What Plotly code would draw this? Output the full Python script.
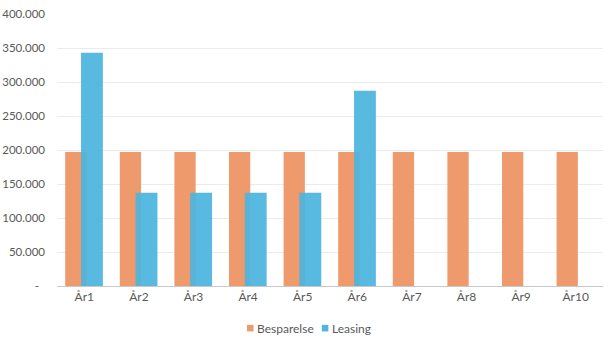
import plotly.graph_objects as go

years = ["År1", "År2", "År3", "År4", "År5", "År6", "År7", "År8", "År9", "År10"]
besparelse = [197000, 197000, 197000, 197000, 197000, 197000, 197000, 197000, 197000, 197000]
leasing = [343000, 137000, 137000, 137000, 137000, 287000, 0, 0, 0, 0]

y_tick_vals = [0, 50000, 100000, 150000, 200000, 250000, 300000, 350000, 400000]
y_tick_text = ["-\u00a0\u00a0", "50.000", "100.000", "150.000", "200.000",
               "250.000", "300.000", "350.000", "400.000"]

series_names = ["Besparelse", "Leasing"]
series_colors = ["#EE9A6C", "#4DB5DF"]

text_color = "#595959"
font_family = "Lato, 'Liberation Sans', sans-serif"

fig = go.Figure()
fig.add_trace(go.Bar(
    x=years, y=besparelse, name=series_names[0],
    marker=dict(color=series_colors[0], line=dict(width=0)),
    width=0.39, offset=-0.35, showlegend=False,
))
fig.add_trace(go.Bar(
    x=years, y=leasing, name=series_names[1],
    marker=dict(color=series_colors[1], line=dict(width=0)),
    opacity=0.93, width=0.40, offset=-0.06, showlegend=False,
))

# compact legend below the plot: colour square + label per series
legend_x = [0.348, 0.485]
shapes = []
annotations = []
for name, color, lx in zip(series_names, series_colors, legend_x):
    shapes.append(dict(
        type="rect", xref="paper", yref="paper",
        x0=lx, x1=lx + 0.012, y0=-0.167, y1=-0.143,
        fillcolor=color, line=dict(width=0),
    ))
    annotations.append(dict(
        xref="paper", yref="paper", x=lx + 0.015, y=-0.155,
        xanchor="left", yanchor="middle", text=name, showarrow=False,
        font=dict(family=font_family, size=12, color=text_color),
    ))

fig.update_layout(
    width=610, height=339,
    barmode="overlay",
    margin=dict(l=57, r=7, t=14, b=53, autoexpand=False),
    paper_bgcolor="white",
    plot_bgcolor="white",
    font=dict(family=font_family, size=12, color=text_color),
    showlegend=False,
    shapes=shapes,
    annotations=annotations,
    xaxis=dict(
        showgrid=False, showline=True, linecolor="#C8C8C8", linewidth=1,
        ticks="", tickfont=dict(size=12, color=text_color),
        range=[-0.5, 9.5],
    ),
    yaxis=dict(
        range=[0, 400000], tickvals=y_tick_vals, ticktext=y_tick_text,
        showgrid=True, gridcolor="#EBEBEB", gridwidth=1,
        zeroline=False, showline=False, ticks="",
        tickfont=dict(size=11.5, color=text_color),
        ticklabelstandoff=11,
    ),
)

fig.write_html("out.html")
